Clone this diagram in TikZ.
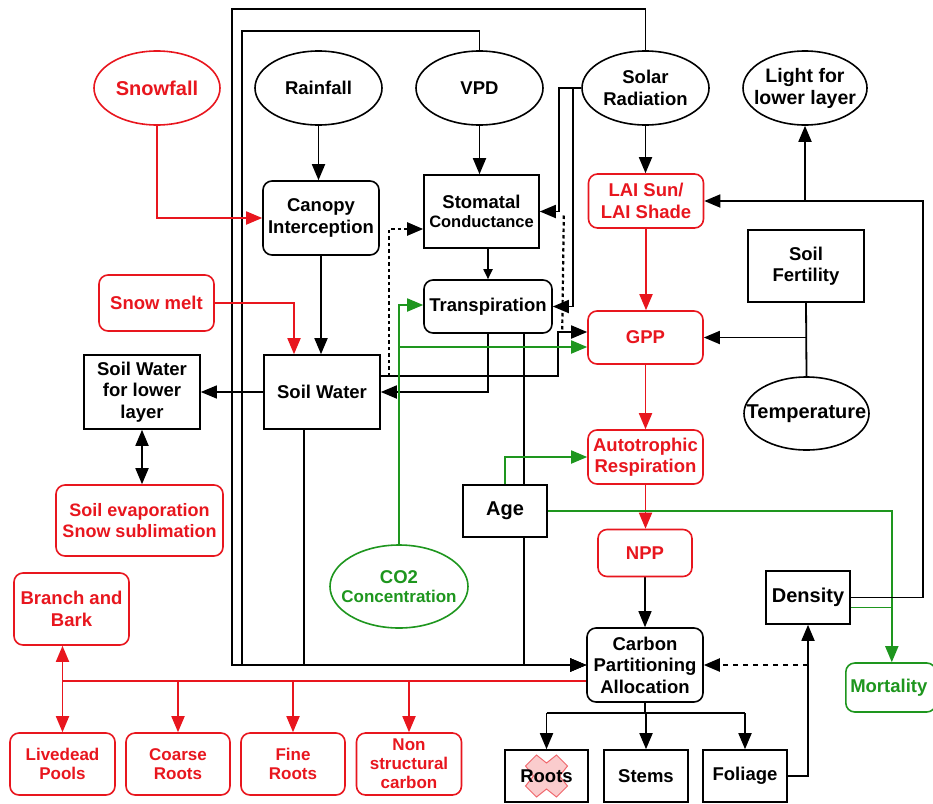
\documentclass[tikz,border=0pt]{standalone}
\usepackage{fontspec}
\setmainfont{Liberation Sans}
\usetikzlibrary{arrows.meta,shapes.geometric,backgrounds,calc}
\definecolor{cred}{RGB}{232,22,30}
\definecolor{cgreen}{RGB}{30,150,30}
\begin{document}
\begin{tikzpicture}[x=1pt,y=-1pt,
  fnt/.style={font=\fontsize{18.5}{21.5}\selectfont\bfseries},
  base/.style={fnt, align=center, inner sep=0pt, line width=1.6pt, fill=white, draw},
  sq/.style={base, rectangle},
  rbox/.style={base, rectangle, rounded corners=9pt},
  ell/.style={base, ellipse},
  txt/.style={fnt, align=center, inner sep=0pt},
  redn/.style={draw=cred, text=cred},
  greenn/.style={draw=cgreen, text=cgreen},
  small/.style={font=\fontsize{17}{19.5}\selectfont\bfseries},
  big/.style={font=\fontsize{20}{23}\selectfont\bfseries},
  ln/.style={line width=1.8pt, black},
  redl/.style={line width=1.8pt, cred},
  grl/.style={line width=1.8pt, cgreen},
  arr/.style={-{Triangle[length=16pt,width=13pt]}},
  sarr/.style={-{Triangle[length=10pt,width=9pt]}},
  dots/.style={line width=2.2pt, dash pattern=on 3.5pt off 3pt},
  dsh/.style={line width=2.2pt, dash pattern=on 5pt off 5pt}
]
\useasboundingbox (0,0) rectangle (933,803);
\begin{scope}[on background layer]
  \fill[white] (0,0) rectangle (933,803);
\end{scope}

% ---------- nodes ----------
\node[ell, redn, minimum width=126pt, minimum height=74pt,
      label={[txt,big,text=cred]center:Snowfall}] (snowfall) at (157,88) {};
\node[ell, minimum width=127pt, minimum height=74pt,
      label={[txt]center:Rainfall}] (rainfall) at (318.5,88) {};
\node[ell, minimum width=127pt, minimum height=74pt,
      label={[txt]center:VPD}] (vpd) at (479.5,88) {};
\node[ell, minimum width=127pt, minimum height=74pt,
      label={[txt]center:Solar\\Radiation}] (solar) at (645.5,88) {};
\node[ell, minimum width=124pt, minimum height=74pt,
      label={[txt,font=\fontsize{19.5}{22}\selectfont\bfseries]center:Light for\\lower layer}] (light) at (805,88) {};

\node[rbox, minimum width=116pt, minimum height=74pt] (canopy) at (321,218) {Canopy\\Interception};
\node[sq, minimum width=115pt, minimum height=73pt] (stomatal) at (481.5,211.5)
     {Stomatal\\[-3pt]{\fontsize{16.5}{19}\selectfont\bfseries Conductance}};
\node[rbox, minimum width=128pt, minimum height=53pt] (transp) at (488,306.5) {Transpiration};
\node[rbox, redn, minimum width=115pt, minimum height=54pt] (lai) at (646,201) {LAI Sun/\\LAI Shade};
\node[sq, minimum width=116pt, minimum height=72pt] (fert) at (806,266) {Soil\\Fertility};
\node[rbox, redn, minimum width=115pt, minimum height=53pt] (gpp) at (645.5,337.5) {GPP};
\node[ell, minimum width=125pt, minimum height=73pt,
      label={[txt,big]center:Temperature}] (temp) at (806.5,413.5) {};

\node[rbox, redn, minimum width=115pt, minimum height=56pt] (snowmelt) at (156.5,303) {Snow melt};
\node[sq, minimum width=116pt, minimum height=74pt] (swl) at (142,392) {Soil Water\\for lower\\layer};
\node[sq, minimum width=116pt, minimum height=74pt] (sw) at (322,392) {Soil Water};
\node[rbox, redn, minimum width=167pt, minimum height=71pt,
      font=\fontsize{18}{21.5}\selectfont\bfseries] (evap) at (139.5,520.5) {Soil evaporation\\Snow sublimation};

\node[rbox, redn, minimum width=115pt, minimum height=54pt] (auto) at (645.5,457) {Autotrophic\\Respiration};
\node[sq, big, minimum width=84pt, minimum height=52pt] (age) at (505,511) {Age};
\node[rbox, redn, minimum width=94pt, minimum height=47pt] (npp) at (645,553) {NPP};
\node[ell, greenn, minimum width=138pt, minimum height=83pt,
      label={[txt,text=cgreen]center:CO2\\[-2pt]{\fontsize{17}{19.5}\selectfont\bfseries Concentration}}] (co2) at (399,586.5) {};
\node[sq, big, minimum width=84pt, minimum height=53pt] (density) at (808,597.5) {Density};
\node[rbox, greenn, minimum width=90pt, minimum height=49pt, anchor=west] (mortality) at (845,687.5) {\hspace*{-2pt}Mortality\hspace*{2pt}};

\node[rbox, redn, minimum width=115pt, minimum height=72pt] (branch) at (71.5,609) {Branch and\\Bark};
\node[rbox, minimum width=116pt, minimum height=74pt] (carbon) at (645,665) {Carbon\\Partitioning\\Allocation};

\node[rbox, redn, small, minimum width=105pt, minimum height=62pt] (livedead) at (62.5,764) {Livedead\\Pools};
\node[rbox, redn, small, minimum width=104pt, minimum height=62pt] (coarse) at (178,764) {Coarse\\Roots};
\node[rbox, redn, small, minimum width=104pt, minimum height=62pt] (fine) at (293,764) {Fine\\Roots};
\node[rbox, redn, small, minimum width=105pt, minimum height=62pt,
      font=\fontsize{17}{19}\selectfont\bfseries] (nsc) at (409,764) {Non\\structural\\carbon};

\node[sq, minimum width=83pt, minimum height=52pt] (roots) at (546.5,776) {};
\filldraw[fill=cred!22, draw=cred!65, line width=1pt, shift={(roots.center)}]
  (-10,-21) -- (0,-13) -- (10,-21) -- (21,-10) -- (13,0) -- (21,10) -- (10,21)
  -- (0,13) -- (-10,21) -- (-21,10) -- (-13,0) -- (-21,-10) -- cycle;
\node[txt] at (roots.center) {Roots};
\node[sq, minimum width=84pt, minimum height=52pt] (stems) at (646,776) {Stems};
\node[sq, minimum width=84pt, minimum height=52pt] (foliage) at (745,776) {Foliage};

\coordinate (o1) at (232,9);
\coordinate (o2) at (242,31);

% ---------- connectors ----------
\begin{scope}[on background layer]
  % outer loops to carbon partitioning
  \draw[ln,arr] (solar.north) |- (o1) |- (carbon.west);
  \draw[ln,arr] (vpd.north) |- (o2) |- (carbon.west);
  \draw[ln,arr] ($(sw.south)+(-18,0)$) |- (carbon.west);
  \draw[ln,arr] ($(transp.south)+(36,0)$) |- (carbon.west);

  % top inputs
  \draw[redl,arr] (snowfall.south) |- (canopy.west);
  \draw[ln,arr] (rainfall.south) -- (rainfall.south |- canopy.north);
  \draw[ln,arr] (vpd.south) -- (vpd.south |- stomatal.north);
  \draw[ln,arr] (solar.south) -- (solar.south |- lai.north);
  \draw[ln,sarr] (stomatal.south -| transp.north) -- (transp.north);

  % solar radiation to stomatal conductance and transpiration
  \draw[ln,arr] (solar.west) -- ++(-22,0) |- (stomatal.east);
  \draw[ln,arr] (solar.west) -- ++(-8,0) |- (transp.east);
  \draw[dots] ($(stomatal.east)+(24,4)$) -- ($(gpp.west)+(-25,-5)$);

  % water
  \draw[redl,arr] (snowmelt.east) -| ($(sw.north)+(-28,0)$);
  \draw[ln,arr] (canopy.south) -- (canopy.south |- sw.north);
  \draw[line width=1.2pt,arr] (sw.west) -- (swl.east);
  \draw[ln,{Triangle[length=16pt,width=13pt]}-{Triangle[length=16pt,width=13pt]}]
     (swl.south) -- (swl.south |- evap.north);
  \coordinate (a) at ($(sw.east)+(0,-16)$);
  \draw[dots,arr] ($(a)+(8,0)$) |- ($(stomatal.west)+(0,17.5)$);
  \draw[ln,arr] (a) -- ++(177,0) |- ($(gpp.west)+(0,-5.5)$);
  \draw[ln,arr] (transp.south) |- (sw.east);

  % CO2
  \draw[grl,arr] (co2.north) |- ($(transp.west)+(0,-1.5)$);
  \draw[grl,arr] ($(co2.north |- gpp.west)+(0,9.5)$) -- ($(gpp.west)+(0,9.5)$);

  % carbon chain
  \draw[redl,arr] (lai.south) -- (lai.south |- gpp.north);
  \draw[redl,arr] (gpp.south) -- (gpp.south |- auto.north);
  \draw[redl,arr] (auto.south) -- (auto.south |- npp.north);
  \draw[line width=1.2pt,arr] (npp.south) -- (npp.south |- carbon.north);
  \draw[ln,arr] (fert.south |- gpp.east) -- (gpp.east);
  \draw[ln] (fert.south) -- (temp.north);

  % age
  \draw[grl,arr] (age.north) |- (auto.west);
  \draw[grl,arr] (age.east) -| ($(mortality.north)+(1,0)$);
  \draw[grl] ($(density.east)+(0,10)$) -- ($(mortality.north |- density.east)+(1,10)$);

  % density
  \draw[ln,arr] (density.east) -- ++(72,0) |- (lai.east);
  \draw[ln,arr] (light.south |- lai.east) -- (light.south);
  \draw[ln,arr] (foliage.east) -| (density.south);
  \draw[dsh,arr] (density.south |- carbon.east) -- (carbon.east);

  % allocation
  \coordinate (cs) at ($(carbon.south)+(0,10)$);
  \draw[ln] (carbon.south) -- (cs);
  \draw[ln] (roots.north |- cs) -- (foliage.north |- cs);
  \draw[ln,arr] (roots.north |- cs) -- (roots.north);
  \draw[ln,arr] (stems.north |- cs) -- (stems.north);
  \draw[ln,arr] (foliage.north |- cs) -- (foliage.north);

  % red distribution
  \coordinate (rc) at ($(carbon.west)+(0,16)$);
  \draw[redl] (rc) -- (livedead.north |- rc);
  \draw[redl,{Triangle[length=16pt,width=13pt]}-{Triangle[length=16pt,width=13pt]}]
     (livedead.north |- branch.south) -- (livedead.north);
  \foreach \n in {coarse,fine,nsc}
    \draw[redl,arr] (\n.north |- rc) -- (\n.north);
\end{scope}
\end{tikzpicture}
\end{document}
